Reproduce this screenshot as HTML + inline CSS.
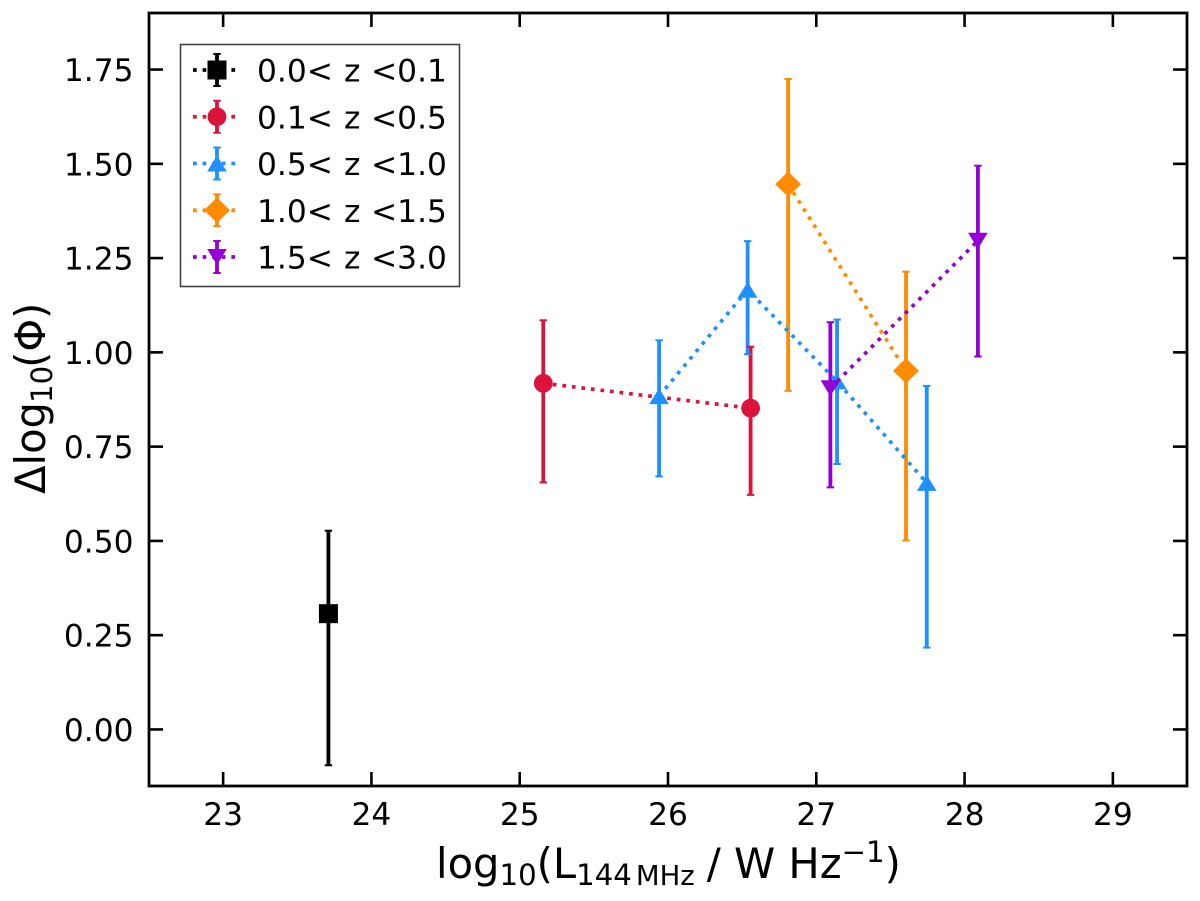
<!DOCTYPE html>
<html>
<head>
<meta charset="utf-8">
<title>Delta log Phi vs radio luminosity</title>
<style>
html,body{margin:0;padding:0;background:#fff;}
svg{display:block;}
text{font-family:"DejaVu Sans","Liberation Sans",sans-serif;fill:#000;}
</style>
</head>
<body>
<svg id="chart" width="1200" height="901" viewBox="0 0 1200 901" xmlns="http://www.w3.org/2000/svg">
  <rect x="0" y="0" width="1200" height="901" fill="#fff"/>
  <g id="bars"></g>
  <g id="series"></g>
  <g id="ticks"></g>
  <rect x="149" y="13" width="1038" height="773" fill="none" stroke="#000" stroke-width="2.8"/>
  <text x="436" y="878" font-size="41.67" xml:space="preserve">log<tspan font-size="29.2" dy="7">10</tspan><tspan dy="-7">(L</tspan><tspan font-size="29.2" dy="7">144</tspan><tspan font-size="27.5" dx="4">MHz</tspan><tspan dy="-7" dx="12">/ W Hz</tspan><tspan font-size="29.2" dy="-16">−1</tspan><tspan dy="16">)</tspan></text>
  <text transform="translate(45,494) rotate(-90)" font-size="41.67">Δlog<tspan font-size="29.2" dy="7" dx="-1">10</tspan><tspan dy="-7" dx="-2">(Φ)</tspan></text>
  <g id="legend">
    <rect x="180.5" y="44.5" width="279" height="242" fill="#fff" stroke="#444" stroke-width="1.6"/>
  </g>
</svg>
<script>
var xTicks = [23, 24, 25, 26, 27, 28, 29];
var yTicks = [0, 0.25, 0.5, 0.75, 1, 1.25, 1.5, 1.75];
var yTickLabels = ["0.00", "0.25", "0.50", "0.75", "1.00", "1.25", "1.50", "1.75"];

var seriesNames = ["0.0< z <0.1", "0.1< z <0.5", "0.5< z <1.0", "1.0< z <1.5", "1.5< z <3.0"];
var seriesColors = ["#000000", "#dc143c", "#1e90ff", "#ff8c00", "#9400d3"];
var seriesMarkers = ["square", "circle", "triangle-up", "diamond", "triangle-down"];

var black_x = [23.71];
var black_y = [0.307];
var black_low = [-0.095];
var black_high = [0.527];

var red_x = [25.159, 26.557];
var red_y = [0.918, 0.852];
var red_low = [0.655, 0.622];
var red_high = [1.085, 1.015];

var blue_x = [25.94, 26.537, 27.14, 27.745];
var blue_y = [0.884, 1.166, 0.923, 0.654];
var blue_low = [0.671, 0.995, 0.704, 0.217];
var blue_high = [1.032, 1.295, 1.087, 0.911];

var orange_x = [26.81, 27.605];
var orange_y = [1.446, 0.951];
var orange_low = [0.898, 0.501];
var orange_high = [1.725, 1.214];

var purple_x = [27.095, 28.09];
var purple_y = [0.905, 1.296];
var purple_low = [0.642, 0.989];
var purple_high = [1.08, 1.495];

var allX = [black_x, red_x, blue_x, orange_x, purple_x];
var allY = [black_y, red_y, blue_y, orange_y, purple_y];
var allLow = [black_low, red_low, blue_low, orange_low, purple_low];
var allHigh = [black_high, red_high, blue_high, orange_high, purple_high];
var seriesKeys = ["black", "red", "blue", "orange", "purple"];

var NS = "http://www.w3.org/2000/svg";
function xScale(v) { return 149 + (v - 22.5) * (1038 / 7); }
function yScale(v) { return 786 - (v + 0.15) * (773 / 2.05); }

function make(tag, attrs, parent) {
  var el = document.createElementNS(NS, tag);
  for (var k in attrs) { el.setAttribute(k, attrs[k]); }
  parent.appendChild(el);
  return el;
}

function drawMarker(kind, cx, cy, color, parent) {
  var el;
  if (kind === "square") {
    el = make("rect", { x: cx - 9.5, y: cy - 9.5, width: 19, height: 19, fill: color }, parent);
  } else if (kind === "circle") {
    el = make("circle", { cx: cx, cy: cy, r: 9.4, fill: color }, parent);
  } else if (kind === "triangle-up") {
    el = make("polygon", { points: (cx) + "," + (cy - 8) + " " + (cx + 9.8) + "," + (cy + 8) + " " + (cx - 9.8) + "," + (cy + 8), fill: color }, parent);
  } else if (kind === "triangle-down") {
    el = make("polygon", { points: (cx) + "," + (cy + 8) + " " + (cx + 9.8) + "," + (cy - 8) + " " + (cx - 9.8) + "," + (cy - 8), fill: color }, parent);
  } else {
    el = make("polygon", { points: (cx) + "," + (cy - 12.6) + " " + (cx + 13) + "," + cy + " " + (cx) + "," + (cy + 12.6) + " " + (cx - 13) + "," + cy, fill: color }, parent);
  }
  return el;
}

var barsG = document.getElementById("bars");
var seriesG = document.getElementById("series");
var ticksG = document.getElementById("ticks");
var legendG = document.getElementById("legend");

allX.forEach(function (xs, s) {
  var color = seriesColors[s];
  xs.forEach(function (xv, i) {
    var px = xScale(xv);
    var bar = make("line", { x1: px, x2: px, y1: yScale(allLow[s][i]), y2: yScale(allHigh[s][i]), stroke: color, "stroke-width": 3.8 }, barsG);
    
    
  });
});

allX.forEach(function (xs, s) {
  var color = seriesColors[s];
  var g = make("g", {}, seriesG);
  
  
  var pts = xs.map(function (xv, i) { return xScale(xv) + "," + yScale(allY[s][i]); }).join(" ");
  var line = make("polyline", { points: pts, fill: "none", stroke: color, "stroke-width": 3.7, "stroke-dasharray": "3.7 5.9" }, g);
  
  
  xs.forEach(function (xv, i) {
    var px = xScale(xv);
    [allLow[s][i], allHigh[s][i]].forEach(function (v) {
      var cap = make("line", { x1: px - 3.7, x2: px + 3.7, y1: yScale(v), y2: yScale(v), stroke: color, "stroke-width": 2 }, g);
      
      
    });
    var m = drawMarker(seriesMarkers[s], px, yScale(allY[s][i]), color, g);
    
    
  });
});

xTicks.forEach(function (t) {
  var px = xScale(t);
  var b = make("line", { x1: px, x2: px, y1: 786, y2: 772, stroke: "#000", "stroke-width": 2.6 }, ticksG);
  
  
  var tp = make("line", { x1: px, x2: px, y1: 13, y2: 27, stroke: "#000", "stroke-width": 2.6 }, ticksG);
  
  
  var lab = make("text", { x: px, y: 825, "font-size": 31.25, "text-anchor": "middle" }, ticksG);
  
  
  lab.textContent = String(t);
});

yTicks.forEach(function (t, i) {
  var py = yScale(t);
  var l = make("line", { x1: 149, x2: 163, y1: py, y2: py, stroke: "#000", "stroke-width": 2.6 }, ticksG);
  
  
  var r = make("line", { x1: 1187, x2: 1173, y1: py, y2: py, stroke: "#000", "stroke-width": 2.6 }, ticksG);
  
  
  var lab = make("text", { x: 133.5, y: py + 11.5, "font-size": 31.25, "text-anchor": "end" }, ticksG);
  
  
  lab.textContent = yTickLabels[i];
});

seriesNames.forEach(function (name, s) {
  var rowY = 70 + s * 46.75;
  var color = seriesColors[s];
  var g = make("g", {}, legendG);
  
  
  make("line", { x1: 193, x2: 237, y1: rowY, y2: rowY, stroke: color, "stroke-width": 3.7, "stroke-dasharray": "3.7 5.9" }, g);
  make("line", { x1: 217, x2: 217, y1: rowY - 16, y2: rowY + 16, stroke: color, "stroke-width": 3.8 }, g);
  make("line", { x1: 213.3, x2: 220.7, y1: rowY - 16, y2: rowY - 16, stroke: color, "stroke-width": 2 }, g);
  make("line", { x1: 213.3, x2: 220.7, y1: rowY + 16, y2: rowY + 16, stroke: color, "stroke-width": 2 }, g);
  drawMarker(seriesMarkers[s], 217, rowY, color, g);
  var parts = name.split(" ");
  var t = make("text", { y: rowY + 11.5, "font-size": 31.25 }, g);
  
  
  var a = make("tspan", { x: 257 }, t);
  a.textContent = parts[0];
  var b = make("tspan", { x: 344 }, t);
  b.textContent = parts[1];
  var c = make("tspan", { x: 371 }, t);
  c.textContent = parts[2];
});
</script>
</body>
</html>
